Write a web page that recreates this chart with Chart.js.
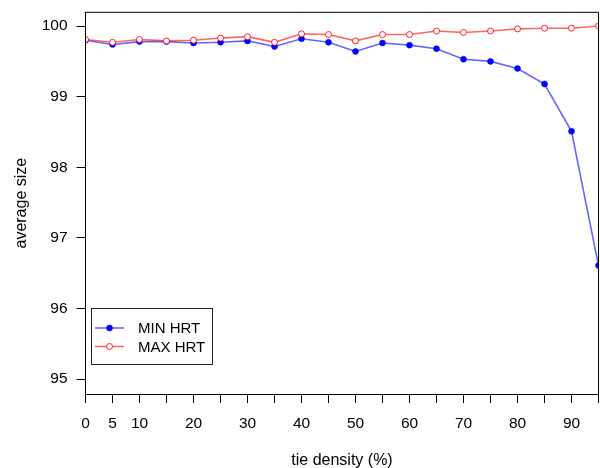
<!DOCTYPE html>
<html>
<head>
<meta charset="utf-8">
<script src="https://cdn.jsdelivr.net/npm/chart.js@4/dist/chart.umd.min.js"></script>
<style>
  body { margin: 0; background: #fff; }
  #wrap { width: 600px; height: 468px; }
</style>
</head>
<body>
<div id="wrap"><canvas id="sizeChart" width="600" height="468"></canvas></div>
<script>
/* data */
const tieDensity = [0, 5, 10, 15, 20, 25, 30, 35, 40, 45, 50, 55, 60, 65, 70, 75, 80, 85, 90, 95]
const minHrt = [99.80, 99.74, 99.78, 99.78, 99.76, 99.77, 99.79, 99.71, 99.82, 99.77,
                99.64, 99.76, 99.73, 99.68, 99.53, 99.50, 99.40, 99.18, 98.51, 96.61]
const maxHrt = [99.81, 99.77, 99.81, 99.79, 99.80, 99.83, 99.85, 99.77, 99.89, 99.88,
                99.79, 99.88, 99.88, 99.93, 99.91, 99.93, 99.96, 99.97, 99.97, 100.00]
const xTickLabels = [0, 5, 10, 20, 30, 40, 50, 60, 70, 80, 90]
const yTicks = [95, 96, 97, 98, 99, 100]
const seriesNames = ['MIN HRT', 'MAX HRT']

const FONT = 'Liberation Sans, Arial, sans-serif'

function toPoints(ys) {
    return tieDensity.map(function(x, i) { return { x: x, y: ys[i] } })
}

// the plot box is placed by hand, so drop the padding chart.js keeps for labels
function noPadding(scale) {
    scale.paddingLeft = 0
    scale.paddingRight = 0
    scale.paddingTop = 0
    scale.paddingBottom = 0
}

/* box round the plot and the legend inside it, like R does */
const boxAndLegend = {
    id: 'boxAndLegend',
    afterDatasetsDraw(chart) {
        const ctx = chart.ctx
        const a = chart.chartArea
        ctx.save()
        ctx.strokeStyle = '#000'
        ctx.lineWidth = 1
        ctx.beginPath()
        ctx.moveTo(a.left, a.bottom)
        ctx.lineTo(a.left, a.top)
        ctx.lineTo(a.right, a.top)
        ctx.lineTo(a.right, a.bottom)
        ctx.stroke()

        // legend
        const lx = 91.5, ly = 308.5, lw = 121, lh = 56
        ctx.fillStyle = '#fff'
        ctx.fillRect(lx, ly, lw, lh)
        ctx.strokeStyle = '#222'
        ctx.strokeRect(lx, ly, lw, lh)
        const rows = [328, 346.5]
        chart.data.datasets.forEach(function(ds, i) {
            const y = rows[i]
            ctx.strokeStyle = ds.borderColor
            ctx.lineWidth = ds.borderWidth
            ctx.beginPath()
            ctx.moveTo(95, y)
            ctx.lineTo(124, y)
            ctx.stroke()
            ctx.beginPath()
            ctx.arc(109.5, y, ds.pointRadius, 0, Math.PI * 2)
            ctx.fillStyle = ds.pointBackgroundColor
            ctx.fill()
            ctx.lineWidth = ds.pointBorderWidth
            ctx.strokeStyle = ds.pointBorderColor
            ctx.stroke()
            ctx.fillStyle = '#000'
            ctx.font = '15px ' + FONT
            ctx.textBaseline = 'middle'
            ctx.textAlign = 'left'
            ctx.fillText(ds.label, 138, y + 1)
        })
        ctx.restore()
    }
}

const ctx = document.getElementById('sizeChart').getContext('2d')
const myChart = new Chart(ctx, {
    type: 'line',
    data: {
        datasets: [
        {
            label: seriesNames[0],
            data: toPoints(minHrt),
            borderColor: 'rgba(0,0,255,0.6)',
            borderWidth: 1.6,
            pointRadius: 3,
            pointBackgroundColor: '#0000ff',
            pointBorderColor: '#0000ff',
            pointBorderWidth: 0.5,
            order: 2
        },
        {
            label: seriesNames[1],
            data: toPoints(maxHrt),
            borderColor: 'rgba(255,0,0,0.6)',
            borderWidth: 1.6,
            pointRadius: 3,
            pointBackgroundColor: '#ffffff',
            pointBorderColor: 'rgba(255,0,0,0.85)',
            pointBorderWidth: 1,
            order: 1
        }]
    },
    options: {
        responsive: false,
        animation: false,
        devicePixelRatio: 1,
        layout: { autoPadding: false, padding: { top: 12.3, right: 1.5, left: 0, bottom: 0 } },
        plugins: {
            legend: { display: false },
            tooltip: { enabled: false }
        },
        scales: {
            x: {
                type: 'linear',
                min: 0,
                max: 95,
                afterBuildTicks: function(scale) {
                    scale.ticks = tieDensity.map(function(v) { return { value: v } })
                },
                afterFit: function(scale) {
                    scale.height = 74
                    noPadding(scale)
                },
                grid: { drawOnChartArea: false, tickLength: 9, color: '#000' },
                border: { display: true, color: '#000', width: 1 },
                ticks: {
                    autoSkip: false,
                    maxRotation: 0,
                    padding: 11,
                    color: '#000',
                    font: { family: FONT, size: 15.5 },
                    callback: function(v) { return xTickLabels.indexOf(v) >= 0 ? String(v) : '' }
                },
                title: {
                    display: true,
                    text: 'tie density (%)',
                    color: '#000',
                    font: { family: FONT, size: 16, lineHeight: 1 },
                    padding: { top: 0, bottom: -1 }
                }
            },
            y: {
                min: 94.79,
                max: 100.195,
                afterBuildTicks: function(scale) {
                    scale.ticks = yTicks.map(function(v) { return { value: v } })
                },
                afterFit: function(scale) {
                    scale.width = 85.5
                    noPadding(scale)
                },
                grid: { drawOnChartArea: false, tickLength: 9, color: '#000' },
                border: { display: true, color: '#000', width: 1 },
                ticks: {
                    padding: 9,
                    color: '#000',
                    font: { family: FONT, size: 15.5 },
                    callback: function(v) { return String(v) }
                },
                title: {
                    display: true,
                    text: 'average size',
                    color: '#000',
                    font: { family: FONT, size: 16, lineHeight: 1 },
                    padding: { top: 14, bottom: 0 }
                }
            }
        }
    },
    plugins: [boxAndLegend]
})
</script>
</body>
</html>
